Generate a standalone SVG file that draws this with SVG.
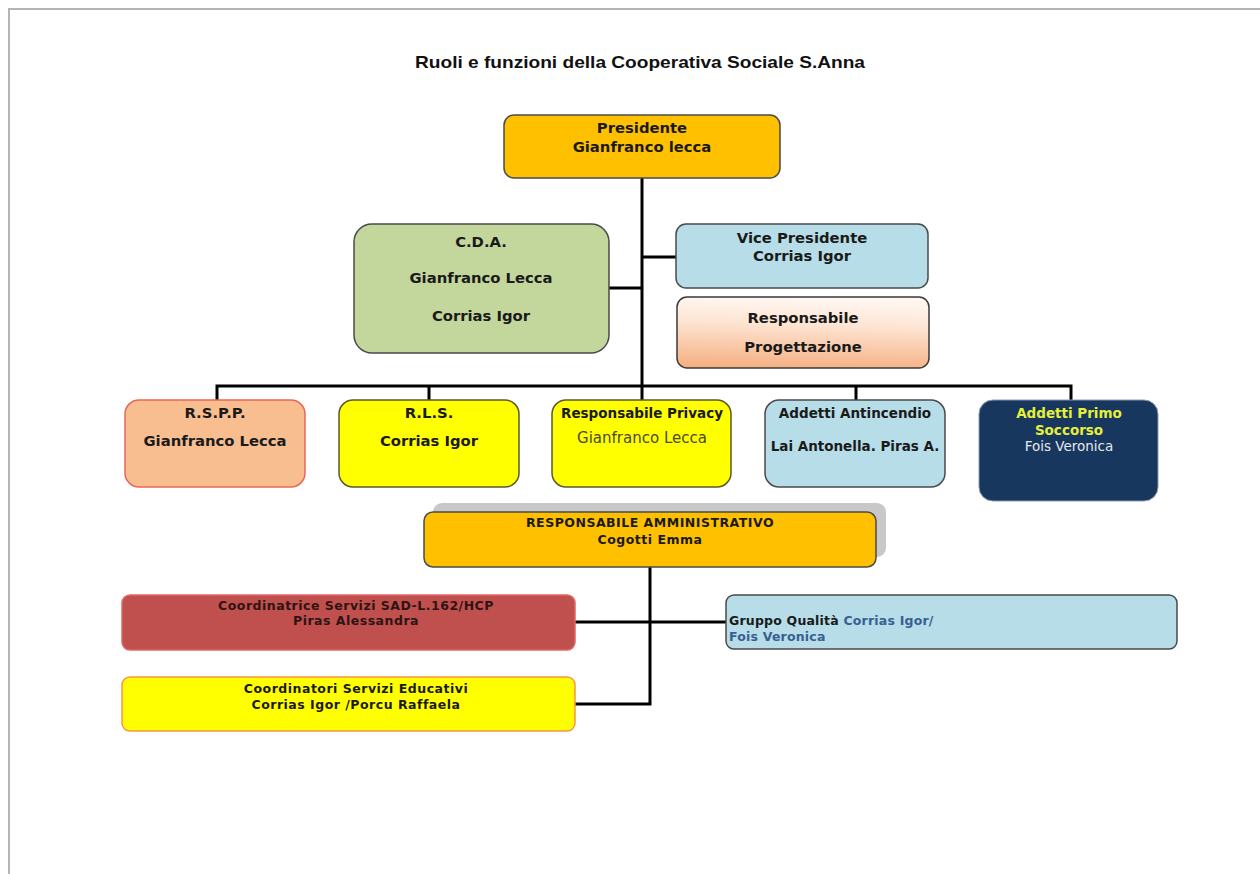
<svg xmlns="http://www.w3.org/2000/svg" width="1260" height="874" viewBox="0 0 1260 874">
  <defs>
    <linearGradient id="peachGrad" x1="0.1" y1="0" x2="0" y2="1">
      <stop offset="0" stop-color="#FFF6F0"/>
      <stop offset="0.35" stop-color="#FDE4D2"/>
      <stop offset="1" stop-color="#F5AD7E"/>
    </linearGradient>
    <style>
      .b { stroke: #4A4A4A; stroke-width: 1.5; }
      .t { font-family: "DejaVu Sans", Verdana, sans-serif; font-weight: bold; font-size: 14.8px; fill: #1A1A1A; text-anchor: middle; }
      .m { font-size: 13.5px; }
      .s { font-family: "DejaVu Sans", Verdana, sans-serif; font-weight: bold; font-size: 12.5px; letter-spacing: 0.5px; fill: #1A1A1A; text-anchor: middle; }
      .n { font-family: "DejaVu Sans", Verdana, sans-serif; font-weight: normal; font-size: 13.5px; text-anchor: middle; }
      .c { fill: none; stroke: #000; stroke-width: 3; }
    </style>
  </defs>

  <rect x="0" y="0" width="1260" height="874" fill="#FFFFFF"/>
  <!-- page edge -->
  <path d="M9 874 V9 H1260" fill="none" stroke="#B4B4B4" stroke-width="2"/>

  <text x="640" y="68" font-family="Liberation Sans, Arial, sans-serif" font-weight="bold" font-size="17" text-anchor="middle" fill="#111" textLength="450" lengthAdjust="spacingAndGlyphs">Ruoli e funzioni della Cooperativa Sociale S.Anna</text>

  <!-- connectors -->
  <g id="connectors">
    <path class="c" d="M642 178 V386"/>
    <path class="c" d="M609 288 H642"/>
    <path class="c" d="M642 257 H676"/>
    <path class="c" d="M217 400 V386 H1071 V400"/>
    <path class="c" d="M429 386 V400"/>
    <path class="c" d="M642 386 V400"/>
    <path class="c" d="M856 386 V400"/>
    <path class="c" d="M650 567 V704 H575"/>
    <path class="c" d="M575 622 H726"/>
  </g>

  <g id="presidente">
    <rect class="b" x="504" y="115" width="276" height="63" rx="10" fill="#FFC000"/>
    <text class="t" x="642" y="133">Presidente</text>
    <text class="t" x="642" y="152">Gianfranco lecca</text>
  </g>

  <g id="cda">
    <rect class="b" x="354" y="224" width="255" height="129" rx="18" fill="#C3D69B"/>
    <text class="t" x="481" y="247">C.D.A.</text>
    <text class="t" x="481" y="283">Gianfranco Lecca</text>
    <text class="t" x="481" y="321">Corrias Igor</text>
  </g>

  <g id="vice-presidente">
    <rect class="b" x="676" y="224" width="252" height="64" rx="10" fill="#B7DDE8"/>
    <text class="t" x="802" y="243">Vice Presidente</text>
    <text class="t" x="802" y="261">Corrias Igor</text>
  </g>

  <g id="responsabile-progettazione">
    <rect x="677" y="297" width="252" height="71" rx="10" fill="url(#peachGrad)" stroke="#3A3A3A" stroke-width="1.5"/>
    <text class="t" x="803" y="323">Responsabile</text>
    <text class="t" x="803" y="352">Progettazione</text>
  </g>

  <g id="rspp">
    <rect x="125" y="400" width="180" height="87" rx="14" fill="#F8BE90" stroke="#E8675A" stroke-width="1.5"/>
    <text class="t" x="215" y="418">R.S.P.P.</text>
    <text class="t" x="215" y="446">Gianfranco Lecca</text>
  </g>

  <g id="rls">
    <rect x="339" y="400" width="180" height="87" rx="14" fill="#FFFF00" stroke="#5A5A2A" stroke-width="1.5"/>
    <text class="t" x="429" y="418">R.L.S.</text>
    <text class="t" x="429" y="446">Corrias Igor</text>
  </g>

  <g id="responsabile-privacy">
    <rect x="552" y="400" width="179" height="87" rx="14" fill="#FFFF00" stroke="#5A5A2A" stroke-width="1.5"/>
    <text class="t m" x="642" y="418">Responsabile Privacy</text>
    <text class="n" x="642" y="443" style="fill:#4A4A2A;font-size:15px">Gianfranco Lecca</text>
  </g>

  <g id="addetti-antincendio">
    <rect class="b" x="765" y="400" width="180" height="87" rx="14" fill="#B7DDE8"/>
    <text class="t m" x="855" y="418">Addetti Antincendio</text>
    <text class="t m" x="855" y="451">Lai Antonella. Piras A.</text>
  </g>

  <g id="addetti-primo-soccorso">
    <rect x="979" y="400" width="179" height="101" rx="14" fill="#17375E" stroke="#8A9AB0" stroke-width="1"/>
    <text class="t m" x="1069" y="418" style="fill:#E6F03A">Addetti Primo</text>
    <text class="t m" x="1069" y="435" style="fill:#E6F03A">Soccorso</text>
    <text class="n" x="1069" y="451" style="fill:#E4E8EE">Fois Veronica</text>
  </g>

  <g id="responsabile-amministrativo">
    <rect x="433" y="503" width="453" height="54" rx="9" fill="#C8C8C8"/>
    <rect class="b" x="424" y="512" width="452" height="55" rx="9" fill="#FFC000"/>
    <text class="s" x="650" y="527">RESPONSABILE AMMINISTRATIVO</text>
    <text class="s" x="650" y="544">Cogotti Emma</text>
  </g>

  <g id="coordinatrice-sad">
    <rect x="122" y="595" width="453" height="55" rx="8" fill="#C0504D" stroke="#E26666" stroke-width="1.5"/>
    <text class="s" x="356" y="610" style="fill:#2E1414">Coordinatrice Servizi SAD-L.162/HCP</text>
    <text class="s" x="356" y="625" style="fill:#2E1414">Piras Alessandra</text>
  </g>

  <g id="gruppo-qualita">
    <rect class="b" x="726" y="595" width="451" height="54" rx="8" fill="#B7DDE8"/>
    <text class="s" x="729" y="625" style="text-anchor:start;letter-spacing:0.2px">Gruppo Qualità <tspan style="fill:#376092">Corrias Igor/</tspan></text>
    <text class="s" x="729" y="641" style="text-anchor:start;letter-spacing:0.2px;fill:#376092">Fois Veronica</text>
  </g>

  <g id="coordinatori-educativi">
    <rect x="122" y="677" width="453" height="54" rx="8" fill="#FFFF00" stroke="#F79646" stroke-width="1.5"/>
    <text class="s" x="356" y="693">Coordinatori Servizi Educativi</text>
    <text class="s" x="356" y="709">Corrias Igor /Porcu Raffaela</text>
  </g>
</svg>
